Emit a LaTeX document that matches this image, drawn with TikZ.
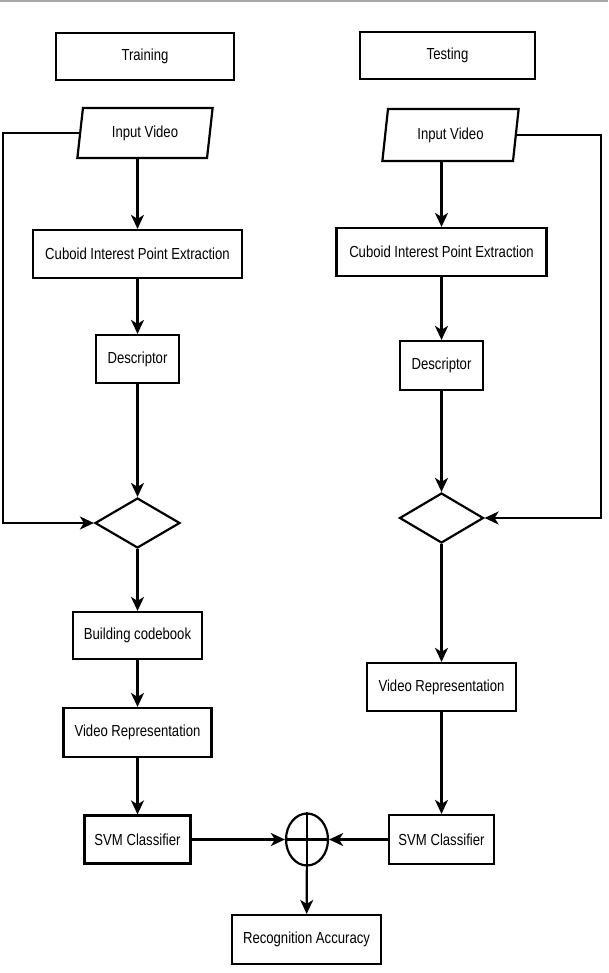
\documentclass[tikz,border=0pt]{standalone}
\usepackage{fontspec}
\setmainfont[FakeStretch=0.82]{Liberation Sans}
\usepackage{tikz}
\usetikzlibrary{shapes.geometric,arrows.meta}

\begin{document}
\begin{tikzpicture}[x=1pt,y=-1pt,
        box/.style={draw, line width=2.2pt, inner sep=0pt, font=\fontsize{16}{18}\selectfont},
        io/.style={box, trapezium, trapezium left angle=78.7, trapezium right angle=101.3, trapezium stretches=true},
        choice/.style={draw, line width=2.2pt, diamond, inner sep=0pt},
        arrow/.style={line width=2.2pt, -{Stealth[length=14pt,width=13pt,inset=4pt]}}]
        \useasboundingbox (0,0) rectangle (608,973);
        \draw[gray!70, line width=2pt] (0,1) -- (608,1);

        % training side
        \node[box, minimum width=178, minimum height=47] (train) at (145,56.5) {Training};
        \node[io, minimum width=136, minimum height=50] (inL) at (145,133) {Input Video};
        \node[box, minimum width=209, minimum height=48] (cubL) at (137.5,254) {Cuboid Interest Point Extraction};
        \node[box, minimum width=83, minimum height=48] (descL) at (137.5,359) {Descriptor};
        \node[choice, minimum width=85, minimum height=50] (dL) at (137.5,523) {};
        \node[box, minimum width=129, minimum height=47] (code) at (137.5,635.5) {Building codebook};
        \node[box, minimum width=148, minimum height=49] (repL) at (137.5,732.5) {Video Representation};
        \node[box, minimum width=106, minimum height=48] (svmL) at (137.5,839.5) {SVM Classifier};
        \coordinate (loopL) at (3,400);

        % testing side
        \node[box, minimum width=175, minimum height=47] (test) at (447.5,55.5) {Testing};
        \node[io, minimum width=137, minimum height=52] (inR) at (450.5,135) {Input Video};
        \node[box, minimum width=210, minimum height=48] (cubR) at (441.5,252) {Cuboid Interest Point Extraction};
        \node[box, minimum width=83, minimum height=49] (descR) at (441.5,365.5) {Descriptor};
        \node[choice, minimum width=84, minimum height=50] (dR) at (441.5,518) {};
        \node[box, minimum width=149, minimum height=48] (repR) at (441.5,687) {Video Representation};
        \node[box, minimum width=105, minimum height=49] (svmR) at (441.5,839.5) {SVM Classifier};
        \coordinate (loopR) at (601,400);

        % fusion
        \node[draw, line width=2.2pt, ellipse, inner sep=0pt, minimum width=42, minimum height=52] (sum) at (307,839.5) {};
        \node[box, minimum width=149, minimum height=49] (acc) at (306.5,939.5) {Recognition Accuracy};

        \draw[arrow] (inL.south -| cubL.north) -- (cubL.north);
        \draw[arrow] (cubL) -- (descL);
        \draw[arrow] (descL) -- (dL);
        \draw[arrow] (inL.west) -| (loopL) |- (dL.west);
        \draw[arrow] (dL) -- (code);
        \draw[arrow] (code) -- (repL);
        \draw[arrow] (repL) -- (svmL);

        \draw[arrow] (inR.south -| cubR.north) -- (cubR.north);
        \draw[arrow] (cubR) -- (descR);
        \draw[arrow] (descR) -- (dR);
        \draw[arrow] (inR.east) -| (loopR) |- (dR.east);
        \draw[arrow] (dR) -- (repR);
        \draw[arrow] (repR) -- (svmR);

        \draw[line width=2.2pt] (sum.north) -- (sum.south);
        \draw[line width=2.2pt] (sum.west) -- (sum.east);
        \draw[arrow] (svmL) -- (sum);
        \draw[arrow] (svmR) -- (sum);
        \draw[arrow] (sum) -- (acc);
\end{tikzpicture}
\end{document}
